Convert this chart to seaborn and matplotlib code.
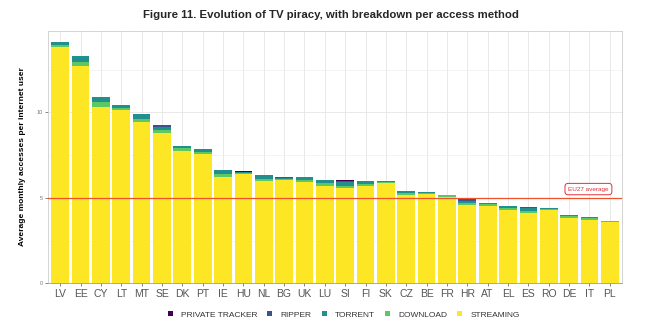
import matplotlib
matplotlib.use("Agg")
import matplotlib.pyplot as plt
import seaborn as sns
import numpy as np
import pandas as pd
from matplotlib.patches import Patch

countries = ["LV","EE","CY","LT","MT","SE","DK","PT","IE","HU","NL","BG","UK","LU",
             "SI","FI","SK","CZ","BE","FR","HR","AT","EL","ES","RO","DE","IT","PL"]
streaming = [13.80,12.72,10.33,10.13,9.43,8.79,7.75,7.56,6.22,6.39,5.98,6.02,5.92,5.71,
             5.56,5.67,5.85,5.15,5.24,5.06,4.58,4.54,4.30,4.13,4.27,3.84,3.72,3.57]
download = [0.12,0.22,0.26,0.12,0.18,0.16,0.14,0.12,0.16,0.04,0.12,0.09,0.12,0.14,
            0.13,0.13,0.08,0.12,0.06,0.10,0.13,0.12,0.10,0.11,0.09,0.10,0.10,0.07]
torrent = [0.17,0.33,0.29,0.16,0.31,0.17,0.14,0.17,0.25,0.06,0.23,0.05,0.16,0.19,
           0.25,0.20,0.03,0.11,0.06,0.02,0.12,0.05,0.12,0.16,0.03,0.04,0.04,0.02]
ripper = [0.00,0.00,0.00,0.03,0.00,0.12,0.00,0.00,0.00,0.00,0.00,0.06,0.00,0.00,
          0.05,0.00,0.00,0.00,0.00,0.00,0.08,0.00,0.00,0.08,0.00,0.00,0.00,0.00]
private_tracker = [0.00,0.00,0.00,0.00,0.00,0.00,0.00,0.00,0.00,0.08,0.00,0.00,0.00,0.00,
                   0.06,0.00,0.00,0.00,0.00,0.00,0.00,0.00,0.00,0.00,0.00,0.00,0.00,0.00]
eu27_average = 4.96

methods = ["STREAMING", "DOWNLOAD", "TORRENT", "RIPPER", "PRIVATE TRACKER"]
colors = {"PRIVATE TRACKER": "#440154", "RIPPER": "#3B528B", "TORRENT": "#21908C",
          "DOWNLOAD": "#5DC863", "STREAMING": "#FDE725"}

df = pd.DataFrame({"country": countries, "STREAMING": streaming, "DOWNLOAD": download,
                   "TORRENT": torrent, "RIPPER": ripper, "PRIVATE TRACKER": private_tracker})
cum = df[methods].cumsum(axis=1)

sns.set_theme(style="whitegrid")
plt.rcParams["font.family"] = ["Liberation Sans", "DejaVu Sans"]

fig = plt.figure(figsize=(6.55, 3.36), dpi=100)
ax = fig.add_axes([48/655, 1-283.3/336, 574/655, (283.3-30.7)/336])

for m in reversed(methods):
    sns.barplot(x=df["country"], y=cum[m], color=colors[m], width=0.87,
                saturation=1, ax=ax, order=countries, linewidth=0, edgecolor="none")

ax.set_xlim(-0.6, len(countries) - 0.4)
ax.set_ylim(0, 14.77)
ax.set_yticks([0, 5, 10])
ax.set_yticks([2.5, 7.5, 12.5], minor=True)
ax.set_axisbelow(True)
ax.grid(True, which="major", color="#e5e5e5", linewidth=0.6)
ax.grid(True, which="minor", axis="y", color="#f0f0f0", linewidth=0.5)
for s in ax.spines.values():
    s.set_color("#cccccc")
    s.set_linewidth(0.6)
ax.spines["bottom"].set_color("#999999")

ax.axhline(eu27_average, color="#F0502A", linewidth=0.9, zorder=5)
ax.text(25.95, eu27_average + 0.55, "EU27 average", fontsize=4.6, color="#E0303A",
        ha="center", va="center", zorder=6,
        bbox=dict(boxstyle="round,pad=0.5", fc="white", ec="#E0303A", lw=0.7))

ax.tick_params(axis="x", labelsize=7.5, labelcolor="#555555", length=2.5,
               color="#555555", width=0.5, pad=1.5, bottom=True)
ax.tick_params(axis="y", labelsize=4, labelcolor="#777777", length=2.5,
               color="#555555", width=0.5, pad=1, left=True)
ax.set_xlabel("")
ax.set_ylabel("Average monthly accesses per internet user", fontsize=6,
              fontweight="bold", color="black", labelpad=8)

fig.suptitle("Figure 11. Evolution of TV piracy, with breakdown per access method",
             x=0.505, y=0.97, fontsize=8.2, fontweight="bold")

legend_order = ["PRIVATE TRACKER", "RIPPER", "TORRENT", "DOWNLOAD", "STREAMING"]
handles = [Patch(facecolor=colors[m], edgecolor="none", label=m) for m in legend_order]
fig.legend(handles=handles, loc="center", bbox_to_anchor=(0.525, 0.063), ncol=5,
           frameon=False, fontsize=6.0, handlelength=0.6, handleheight=0.6,
           handletextpad=1.0, columnspacing=1.2, labelcolor="#333333")

fig.savefig("out.png", dpi=100)
